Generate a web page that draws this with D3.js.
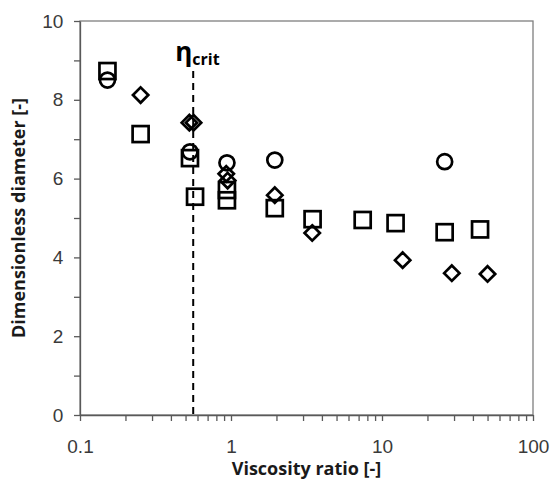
<!DOCTYPE html>
<html>
<head>
<meta charset="utf-8">
<style>
  body { margin: 0; background: #fff; }
  svg { font-family: "Open Sans", "Liberation Sans", sans-serif; }
  .tick text { fill: #3a3a3a; font-size: 19px; }
  .title { font-weight: bold; font-size: 18px; fill: #1a1a1a; }
</style>
</head>
<body>
<svg id="chart" width="552" height="479"></svg>
<script src="https://d3js.org/d3.v7.min.js"></script>
<script>
// data
const circleX = [0.152, 0.535, 0.94, 1.95, 26];
const circleY = [8.5, 6.68, 6.4, 6.47, 6.43];

const squareX = [0.152, 0.252, 0.535, 0.578, 0.94, 0.94, 1.95, 3.47, 7.45, 12.3, 26, 44.6];
const squareY = [8.73, 7.13, 6.52, 5.54, 5.71, 5.45, 5.25, 4.97, 4.95, 4.87, 4.64, 4.71];

const diamondX = [0.252, 0.53, 0.565, 0.93, 0.95, 1.95, 3.45, 13.7, 29, 50];
const diamondY = [8.12, 7.42, 7.42, 6.12, 5.95, 5.58, 4.62, 3.93, 3.6, 3.58];

const etaCrit = 0.562;
const xTicks = [0.1, 1, 10, 100];
const yTicks = [0, 2, 4, 6, 8, 10];

const margin = {top: 21, right: 19, bottom: 64, left: 80};
const width = 552 - margin.left - margin.right,
      height = 479 - margin.top - margin.bottom;

const svg = d3.select("#chart");
const chart = svg.append("g")
  .attr("transform", "translate(" + margin.left + "," + margin.top + ")");

const x = d3.scaleLog().domain([0.1, 100]).range([0, width]);
const y = d3.scaleLinear().domain([0, 10]).range([height, 0]);

// plot frame
chart.append("rect")
  .attr("x", 0).attr("y", 0)
  .attr("width", width).attr("height", height)
  .attr("fill", "none").attr("stroke", "#7f7f7f").attr("stroke-width", 1.3);

// minor x ticks
const minor = [];
[0.1, 1, 10].forEach(d => { for (let k = 2; k <= 9; k++) minor.push(d * k); });

const xAxis = chart.append("g")
  .attr("transform", "translate(0," + height + ")")
  .call(d3.axisBottom(x).tickValues(xTicks.concat(minor)).tickSize(6).tickSizeOuter(0)
    .tickFormat(d => xTicks.includes(d) ? String(d) : ""));
xAxis.selectAll("text").attr("dy", "1.55em");

const yAxis = chart.append("g")
  .call(d3.axisLeft(y).tickValues(d3.range(0, 11)).tickSize(6).tickSizeOuter(0)
    .tickFormat(d => yTicks.includes(d) ? d : ""));
yAxis.selectAll("text").attr("dx", "-0.4em");

[xAxis, yAxis].forEach(a => {
  a.select(".domain").attr("stroke", "#595959").attr("stroke-width", 1.3);
  a.selectAll(".tick line").attr("stroke", "#595959").attr("stroke-width", 1.3);
});

// critical viscosity ratio line
chart.append("line")
  .attr("x1", x(etaCrit)).attr("x2", x(etaCrit))
  .attr("y1", 50).attr("y2", height)
  .attr("stroke", "#000").attr("stroke-width", 2)
  .attr("stroke-dasharray", "7,5");

const lab = chart.append("text")
  .attr("x", x(etaCrit) - 18).attr("y", 40)
  .attr("font-weight", "bold").attr("fill", "#000");
lab.append("tspan").attr("font-size", "26px").text("η");
lab.append("tspan").attr("font-size", "16px").attr("dy", "4").text("crit");

const sw = 2.7;
// squares
chart.selectAll(".sq")
  .data(squareX.map((d, i) => [d, squareY[i]]))
  .join("rect")
  .attr("x", d => x(d[0]) - 8).attr("y", d => y(d[1]) - 8)
  .attr("width", 16).attr("height", 16)
  .attr("fill", "none").attr("stroke", "#000").attr("stroke-width", sw);

// diamonds
chart.selectAll(".dm")
  .data(diamondX.map((d, i) => [d, diamondY[i]]))
  .join("path")
  .attr("d", d3.symbol(d3.symbolDiamond2, 150))
  .attr("transform", d => "translate(" + x(d[0]) + "," + y(d[1]) + ")")
  .attr("fill", "none").attr("stroke", "#000").attr("stroke-width", sw);

// circles
chart.selectAll(".ci")
  .data(circleX.map((d, i) => [d, circleY[i]]))
  .join("circle")
  .attr("cx", d => x(d[0])).attr("cy", d => y(d[1]))
  .attr("r", 7.5)
  .attr("fill", "none").attr("stroke", "#000").attr("stroke-width", sw);

// axis titles
svg.append("text").attr("class", "title")
  .attr("x", margin.left + width / 2).attr("y", 475)
  .attr("text-anchor", "middle").text("Viscosity ratio [-]");

svg.append("text").attr("class", "title")
  .attr("transform", "translate(25," + (margin.top + height / 2) + ") rotate(-90)")
  .attr("text-anchor", "middle").text("Dimensionless diameter [-]");
</script>
</body>
</html>
